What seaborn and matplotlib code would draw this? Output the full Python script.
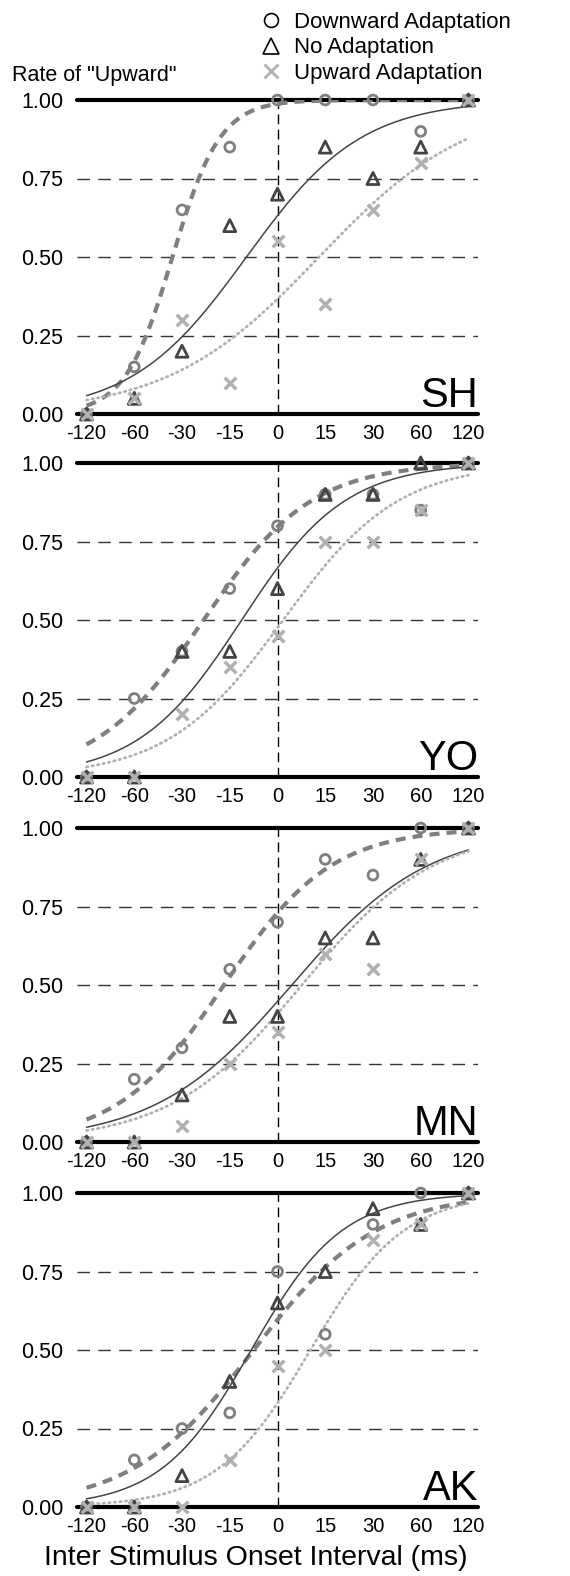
import numpy as np
import pandas as pd
import matplotlib
matplotlib.use("Agg")
import matplotlib.pyplot as plt
import seaborn as sns
from matplotlib.lines import Line2D

# ---------------------------------------------------------------
# Data
# ---------------------------------------------------------------
isoi_labels = ["-120", "-60", "-30", "-15", "0", "15", "30", "60", "120"]
subjects = ["SH", "YO", "MN", "AK"]

# proportion of "upward" responses per ISOI
sh_down = [0.00, 0.15, 0.65, 0.85, 1.00, 1.00, 1.00, 0.90, 1.00]
sh_none = [0.00, 0.05, 0.20, 0.60, 0.70, 0.85, 0.75, 0.85, 1.00]
sh_up = [0.00, 0.05, 0.30, 0.10, 0.55, 0.35, 0.65, 0.80, 1.00]

yo_down = [0.00, 0.25, 0.40, 0.60, 0.80, 0.90, 0.90, 0.85, 1.00]
yo_none = [0.00, 0.00, 0.40, 0.40, 0.60, 0.90, 0.90, 1.00, 1.00]
yo_up = [0.00, 0.00, 0.20, 0.35, 0.45, 0.75, 0.75, 0.85, 1.00]

mn_down = [0.00, 0.20, 0.30, 0.55, 0.70, 0.90, 0.85, 1.00, 1.00]
mn_none = [0.00, 0.00, 0.15, 0.40, 0.40, 0.65, 0.65, 0.90, 1.00]
mn_up = [0.00, 0.00, 0.05, 0.25, 0.35, 0.60, 0.55, 0.90, 1.00]

ak_down = [0.00, 0.15, 0.25, 0.30, 0.75, 0.55, 0.90, 1.00, 1.00]
ak_none = [0.00, 0.00, 0.10, 0.40, 0.65, 0.75, 0.95, 0.90, 1.00]
ak_up = [0.00, 0.00, 0.00, 0.15, 0.45, 0.50, 0.85, 0.90, 1.00]

# fitted logistic curves (midpoint, slope) on the ISOI index axis, per subject
fit_mid_down = [1.80, 2.45, 2.88, 3.50]
fit_slope_down = [2.00, 0.88, 0.89, 0.78]
fit_mid_none = [3.35, 3.25, 4.30, 3.45]
fit_slope_none = [0.83, 0.92, 0.70, 1.05]
fit_mid_up = [4.87, 4.12, 4.51, 4.69]
fit_slope_up = [0.63, 0.826, 0.725, 1.02]

panel_data = {
    "SH": (sh_down, sh_none, sh_up),
    "YO": (yo_down, yo_none, yo_up),
    "MN": (mn_down, mn_none, mn_up),
    "AK": (ak_down, ak_none, ak_up),
}

# ---------------------------------------------------------------
# Style
# ---------------------------------------------------------------
sns.set_style("white")
plt.rcParams["font.family"] = ["Liberation Sans", "DejaVu Sans"]
plt.rcParams["text.color"] = "black"
plt.rcParams["xtick.color"] = "black"
plt.rcParams["ytick.color"] = "black"

C_DOWN = "#7f7f7f"
C_NONE = "#444444"
C_UP = "#b0b0b0"

W, H = 570, 1576
fig = plt.figure(figsize=(W / 100, H / 100), dpi=100)

ax_left, ax_right = 77, 478
panel_tops = [100, 463, 828, 1193]
panel_h = 314

xs = np.linspace(0, 8, 200)


def logistic(x, mid, k):
    return 1.0 / (1.0 + np.exp(-k * (x - mid)))


for i, subj in enumerate(subjects):
    top = panel_tops[i]
    ax = fig.add_axes([ax_left / W, 1 - (top + panel_h) / H,
                       (ax_right - ax_left) / W, panel_h / H])
    down, none, up = panel_data[subj]
    df = pd.DataFrame({
        "pos": np.arange(len(isoi_labels)),
        "down": down, "none": none, "up": up,
    })

    # reference lines
    for yv in [0.25, 0.5, 0.75]:
        ax.axhline(yv, color="#333333", lw=1, ls=(0, (9, 6)), zorder=1)
    ax.axvline(4, color="black", lw=1, ls=(0, (7, 4)), zorder=1)
    ax.axhline(0, color="black", lw=3, zorder=2, clip_on=False)
    ax.axhline(1, color="black", lw=3, zorder=2, clip_on=False)

    # fitted curves
    sns.lineplot(x=xs, y=logistic(xs, fit_mid_down[i], fit_slope_down[i]),
                 ax=ax, color=C_DOWN, lw=3, ls=(0, (2.4, 1.7)),
                 estimator=None, zorder=3)
    sns.lineplot(x=xs, y=logistic(xs, fit_mid_none[i], fit_slope_none[i]),
                 ax=ax, color=C_NONE, lw=1.1, estimator=None, zorder=3)
    sns.lineplot(x=xs, y=logistic(xs, fit_mid_up[i], fit_slope_up[i]),
                 ax=ax, color=C_UP, lw=2.0, ls=(0, (0.5, 1.5)),
                 dash_capstyle="round", estimator=None, zorder=3)

    # observed points
    sns.scatterplot(data=df, x="pos", y="down", ax=ax, marker="o", s=50,
                    color=C_DOWN, facecolors="none", edgecolors=C_DOWN,
                    linewidth=2, zorder=4, clip_on=False)
    sns.scatterplot(data=df, x="pos", y="none", ax=ax, marker="^", s=75,
                    color=C_NONE, facecolors="none", edgecolors=C_NONE,
                    linewidth=2, zorder=5, clip_on=False)
    sns.scatterplot(data=df, x="pos", y="up", ax=ax, marker="x", s=70,
                    color=C_UP, linewidth=2.5, zorder=6, clip_on=False)

    ax.set_xlim(-0.2, 8.2)
    ax.set_ylim(0, 1)
    ax.set_xticks(range(len(isoi_labels)))
    ax.set_xticklabels(isoi_labels, fontsize=14.5)
    ax.set_yticks([0, 0.25, 0.5, 0.75, 1.0])
    ax.set_yticklabels(["0.00", "0.25", "0.50", "0.75", "1.00"], fontsize=15.5)
    ax.tick_params(axis="y", length=0, pad=10)
    ax.tick_params(axis="x", length=0, pad=7)
    ax.set_xlabel("")
    ax.set_ylabel("")
    for sp in ax.spines.values():
        sp.set_visible(False)
    ax.patch.set_alpha(0)

    ax.text(1.0, 0.022, subj, transform=ax.transAxes, ha="right",
            va="baseline", fontsize=30)

fig.text(12 / W, 1 - 75 / H, 'Rate of "Upward"', ha="left", va="center",
         fontsize=15.5)
fig.text(256 / W, 1 - 1558 / H, "Inter Stimulus Onset Interval (ms)",
         ha="center", va="center", fontsize=20.5)

handles = [
    Line2D([], [], ls="none", marker="o", ms=10, mfc="none", mec="black", mew=1.2),
    Line2D([], [], ls="none", marker="^", ms=11, mfc="none", mec="black", mew=1.2),
    Line2D([], [], ls="none", marker="x", ms=10, mec=C_UP, mew=2),
]
labels = ["Downward Adaptation", "No Adaptation", "Upward Adaptation"]
fig.legend(handles, labels, loc="upper left",
           bbox_to_anchor=(260 / W, 1 - 12 / H), frameon=False, fontsize=16,
           handlelength=1.0, handletextpad=0.55, labelspacing=0.2,
           borderpad=0, borderaxespad=0)

fig.savefig("out.png", dpi=100)
